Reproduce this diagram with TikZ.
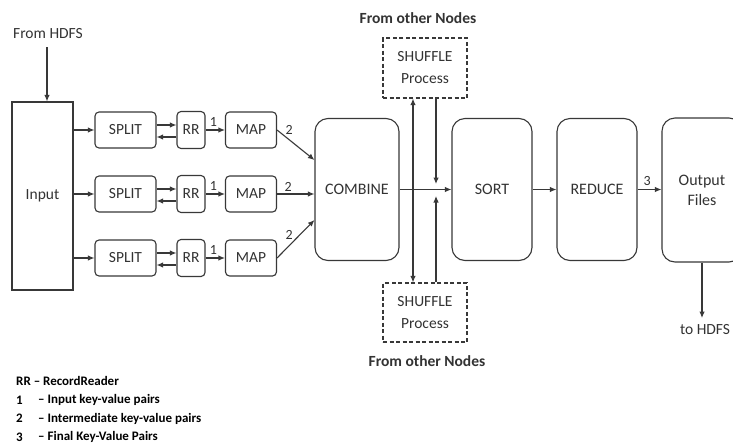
\documentclass[tikz,border=0pt]{standalone}
\usepackage{fontspec}
\setmainfont{Carlito}
\usetikzlibrary{arrows.meta}
\definecolor{lc}{HTML}{383838}
\definecolor{tc}{HTML}{333333}
\begin{document}
\begin{tikzpicture}[x=1pt,y=-1pt,
  ln/.style={draw=lc, line width=1.1pt},
  arr/.style={ln, -{Latex[length=6.5pt,width=5.5pt]}},
  darr/.style={ln, {Latex[length=6.5pt,width=5.5pt]}-{Latex[length=6.5pt,width=5.5pt]}},
  txt/.style={text=tc, font=\fontsize{15.5}{20}\selectfont, inner sep=0pt},
  sbox/.style={ln, txt, rounded corners=4pt, minimum height=36pt},
  bbox/.style={ln, txt, rounded corners=13pt, align=center, minimum width=82pt, minimum height=142pt, font=\fontsize{16}{20}\selectfont},
  shbox/.style={ln, txt, dash pattern=on 4pt off 2.5pt, align=center, minimum width=84pt, minimum height=60pt, font=\fontsize{15.5}{22}\selectfont},
  lbl/.style={text=tc, font=\fontsize{14}{14}\selectfont, inner sep=1.5pt},
  bold/.style={text=tc, font=\bfseries\fontsize{15.5}{16}\selectfont, inner sep=0pt},
  leg/.style={text=black, font=\bfseries\fontsize{13}{14}\selectfont, inner sep=0pt, anchor=west}]
\clip (0,0) rectangle (733,445);
\fill[white] (0,0) rectangle (733,445);

% input
\node[ln, txt, minimum width=61pt, minimum height=188pt] (in1) at (42.5,196) {Input};
\node[txt] (fromhdfs) at (48,34) {From HDFS};
\coordinate (fh) at (47,47);
\draw[arr] (fh) -- (fh |- in1.north);

% rows
\foreach \i/\y in {1/130,2/194,3/258}{
  \node[sbox, minimum width=61pt] (sp\i) at (125.5,\y) {SPLIT};
  \node[sbox, minimum width=28pt, minimum height=37pt] (rr\i) at (191,\y) {RR};
  \node[sbox, minimum width=51pt] (mp\i) at (251,\y) {MAP};
  \draw[arr] (in1.east |- sp\i) -- (sp\i.west);
  \draw[arr] ([yshift=5pt]sp\i.east) -- ([yshift=5pt]sp\i.east -| rr\i.west);
  \draw[arr] ([yshift=-7pt]rr\i.west) -- ([yshift=-7pt]rr\i.west -| sp\i.east);
  \draw[arr] (rr\i) -- node[lbl, above, pos=0.4, inner sep=3pt] {1} (mp\i);
}

% big boxes
\node[bbox, minimum width=84pt] (comb) at (357,189.5) {COMBINE};
\node[bbox, minimum width=80pt] (sort) at (492,189.5) {SORT};
\node[bbox, minimum width=80pt] (red) at (597,189.5) {REDUCE};
\node[bbox, minimum width=80pt, minimum height=144pt] (out) at (702,190) {Output\\Files};

\draw[arr] (mp1.east) -- node[lbl, above right, pos=0.2, inner sep=0.5pt] {2} ([yshift=29.5pt]comb.west);
\draw[arr] (mp2.east) -- node[lbl, above, pos=0.3] {2} (mp2 -| comb.west);
\draw[arr] (mp3.east) -- node[lbl, above left, pos=0.45, inner sep=0.5pt] {2} ([yshift=-30.5pt]comb.west);

% shuffle
\node[shbox] (tsh) at (425,68) {SHUFFLE\\Process};
\node[shbox, minimum height=59pt] (bsh) at (425,312.5) {SHUFFLE\\Process};
\node[bold] (ton) at (418,18) {From other Nodes};
\node[bold] (bon) at (427,361) {From other Nodes};
\coordinate (vl) at (413,190);
\coordinate (vr) at (436,190);
\draw[darr] (tsh.south -| vl) -- (bsh.north -| vl);
\draw[arr] (tsh.south -| vr) -- ([yshift=6pt]vr);
\draw[arr] (bsh.north -| vr) -- ([yshift=-6pt]vr);
\draw[arr] (comb.east) -- (sort.west);
\draw[arr] (sort.east) -- (red.west);
\draw[arr] (red.east) -- node[lbl, above, pos=0.4, inner sep=3pt] {3} (red.east -| out.west);

\node[txt] (tohdfs) at (705,330) {to HDFS};
\coordinate (th) at (702,318);
\draw[arr] (th |- out.south) -- (th);

% legend
\node[leg] (l0) at (16,381) {RR – RecordReader};
\node[leg] (n1) at (16,400) {1};
\node[leg] (t1) at (38,400) {– Input key-value pairs};
\node[leg] (n2) at (16,418.5) {2};
\node[leg] (t2) at (38,418.5) {– Intermediate key-value pairs};
\node[leg] (n3) at (16,437) {3};
\node[leg] (t3) at (38,437) {– Final Key-Value Pairs};
\end{tikzpicture}
\end{document}
